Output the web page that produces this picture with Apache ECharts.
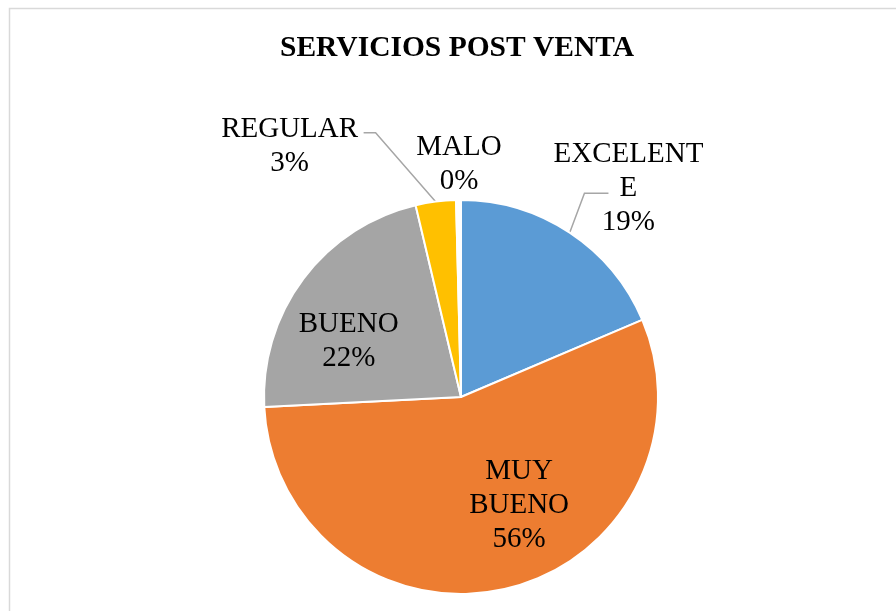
<!DOCTYPE html>
<html><head><meta charset="utf-8">
<script src="https://cdn.jsdelivr.net/npm/echarts@6/dist/echarts.min.js"></script>
<style>html,body{margin:0;padding:0;background:#fff}#c{width:896px;height:611px}</style>
</head><body><div id="c"></div>
<script>
var categories = ['EXCELENTE', 'MUY BUENO', 'BUENO', 'REGULAR', 'MALO'];
var values = [18.6, 55.6, 22.1, 3.3, 0.4];
var colors = ['#5B9BD5', '#ED7D31', '#A5A5A5', '#FFC000', '#FFFFFF'];
var insideLabels = ['MUY BUENO', 'BUENO'];

// label placement (style): offsets from pie centre as fractions of the radius
var labelPlace = {
  'EXCELENTE': [0.85, -1.06],
  'MUY BUENO': [0.295, 0.55],
  'BUENO': [-0.57, -0.28],
  'REGULAR': [-0.87, -1.27],
  'MALO': [-0.01, -1.18]
};
// leader-line elbow and end, in px relative to the label centre (style)
var leaderShape = {
  'EXCELENTE': [[-44, 5], [-20, 5]],
  'REGULAR': [[86, -14], [74, -14]]
};
var labelWidth = {'EXCELENTE': 158, 'MUY BUENO': 160, 'BUENO': 160, 'REGULAR': 160, 'MALO': 160};

var CX = 461, CY = 397, R = 197;
var total = values.reduce(function (a, b) { return a + b; }, 0);
function midAngle(i) {
  var s = 0;
  for (var k = 0; k < i; k++) s += values[k];
  return (s + values[i] / 2) / total * Math.PI * 2;
}
var chart = echarts.init(document.getElementById('c'), null, {renderer: 'canvas'});
var font = "'Liberation Serif', 'Times New Roman', serif";
var data = categories.map(function (n, i) {
  var inside = insideLabels.indexOf(n) >= 0;
  return {
    name: n, value: values[i],
    itemStyle: {color: colors[i]},
    label: {
      position: inside ? 'inside' : 'outside',
      width: labelWidth[n],
      overflow: 'breakAll'
    },
    labelLine: {show: !!leaderShape[n]}
  };
});
chart.setOption({
  animation: false,
  title: {
    text: 'SERVICIOS POST VENTA', left: 275, top: 28,
    textStyle: {fontFamily: font, fontSize: 29.5, fontWeight: 'bold', color: '#000'}
  },
  graphic: [{
    type: 'rect', shape: {x: 9.5, y: 8.5, width: 1000, height: 1000},
    style: {fill: 'none', stroke: '#D9D9D9', lineWidth: 1.5}, silent: true
  }],
  series: [{
    type: 'pie', center: [CX, CY], radius: R, startAngle: 90, clockwise: true,
    avoidLabelOverlap: false, minShowLabelAngle: 0,
    itemStyle: {borderColor: '#fff', borderWidth: 2},
    label: {
      show: true, fontFamily: font, fontSize: 29, color: '#000',
      lineHeight: 34, align: 'center',
      formatter: function (p) { return p.name.replace(' ', '\n') + '\n' + p.percent + '%'; }
    },
    percentPrecision: 0,
    labelLine: {show: true, lineStyle: {color: '#A6A6A6', width: 1.5}},
    labelLayout: function (p) {
      var n = categories[p.dataIndex];
      var pl = labelPlace[n];
      var lx = CX + pl[0] * R, ly = CY + pl[1] * R;
      var out = {x: lx, y: ly, align: 'center', verticalAlign: 'middle'};
      var ls = leaderShape[n];
      if (ls) {
        var a = midAngle(p.dataIndex);
        out.labelLinePoints = [
          [CX + R * Math.sin(a), CY - R * Math.cos(a)],
          [lx + ls[0][0], ly + ls[0][1]],
          [lx + ls[1][0], ly + ls[1][1]]
        ];
      }
      return out;
    },
    data: data
  }]
});
</script></body></html>
